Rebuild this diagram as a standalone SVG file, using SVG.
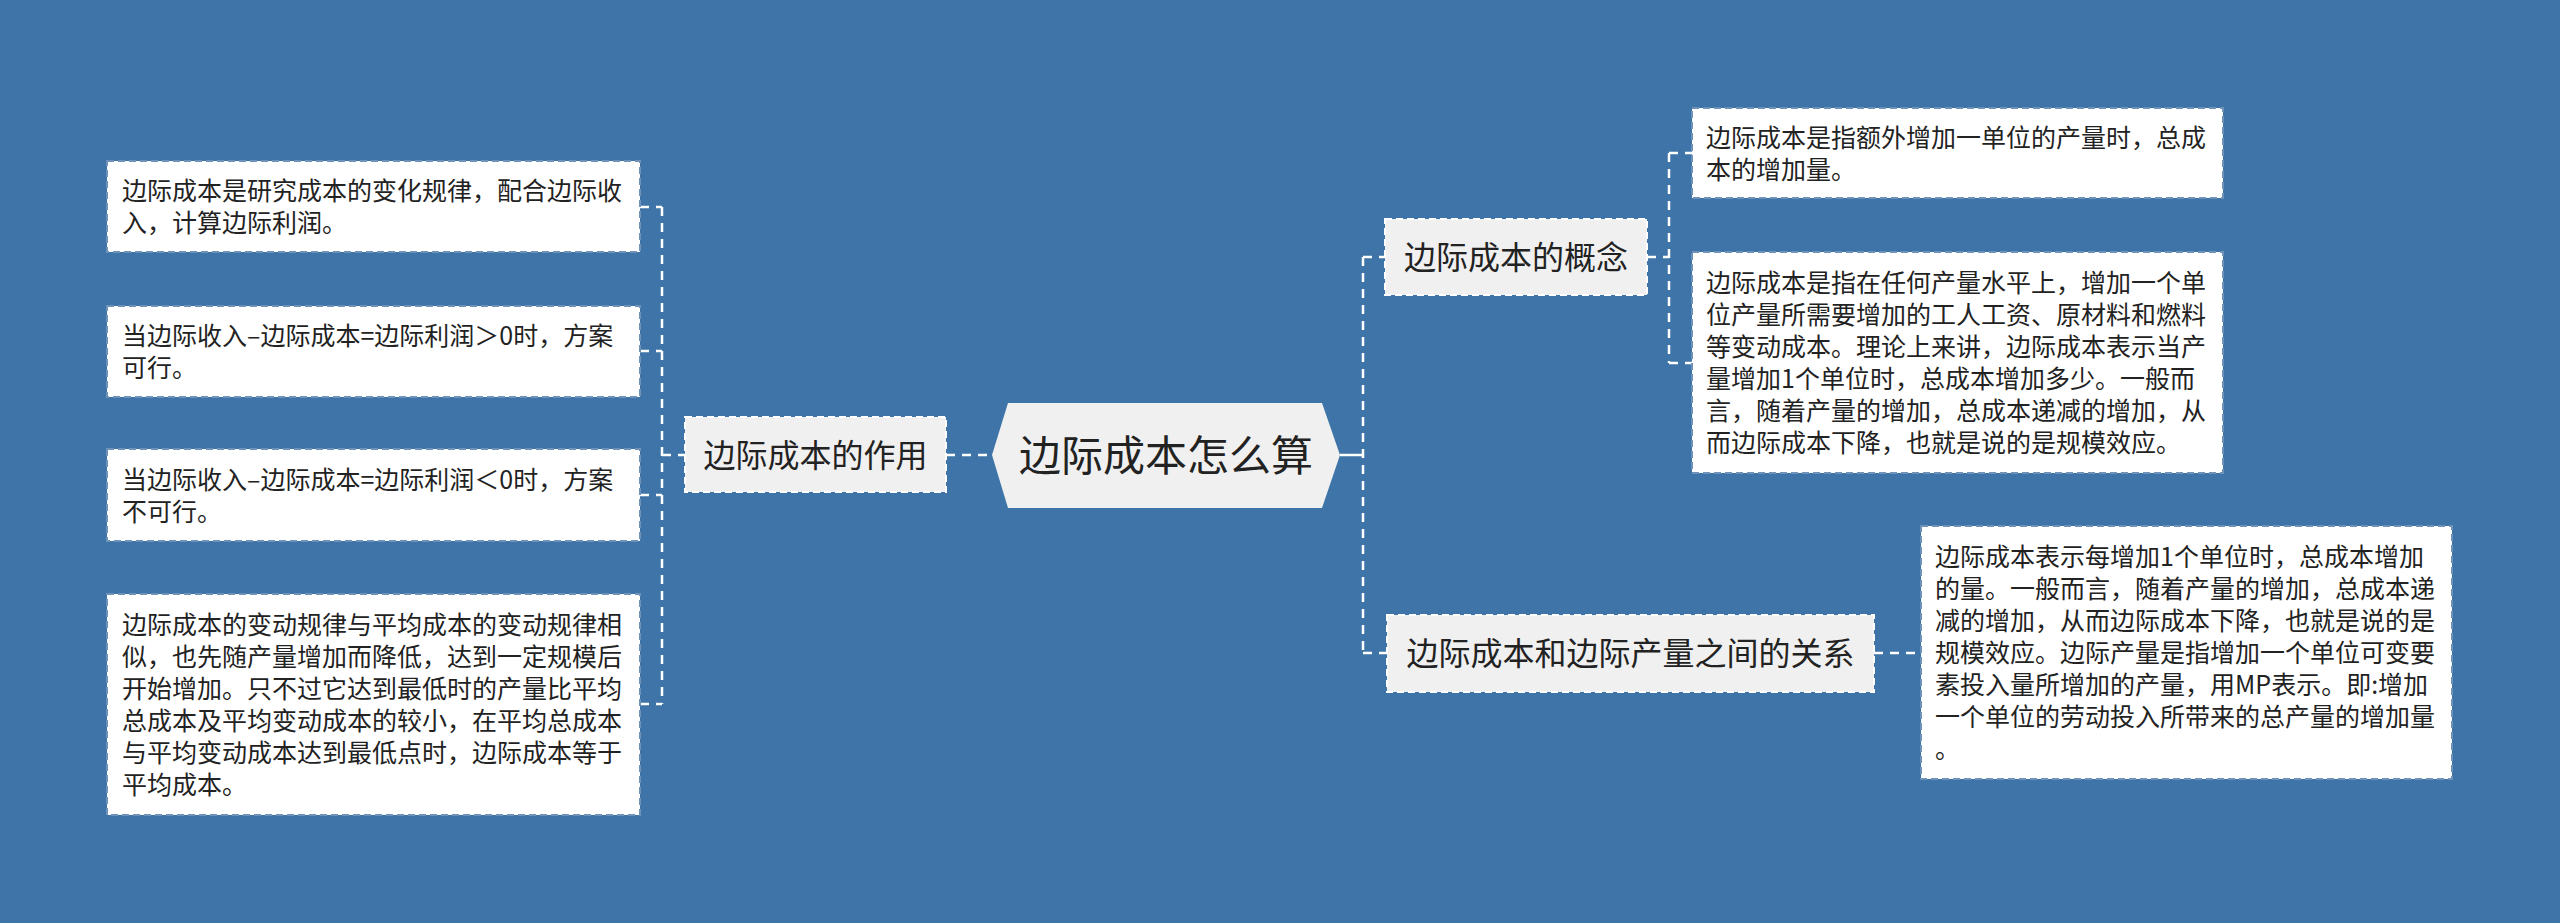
<svg xmlns="http://www.w3.org/2000/svg" width="2560" height="923" viewBox="0 0 2560 923">
<style>
.bg{fill:#3e74a7}
.conn{stroke:#ffffff;stroke-width:2.5;fill:none;stroke-dasharray:9,7}
.solid{stroke:#ffffff;stroke-width:2.5;fill:none}
.leaf{fill:#ffffff;stroke:#6f93b8;stroke-width:2;stroke-dasharray:7,4}
.branch{fill:#f0f0f0;stroke:#ffffff;stroke-width:2;stroke-dasharray:7,4}
.root{fill:#f0f0f0}
text{font-family:"Noto Sans CJK SC","Noto Sans",sans-serif;fill:#222222}
.lt{font-size:25px}
.bt{font-size:32px;text-anchor:middle}
.rt{font-size:42px;text-anchor:middle}
</style>
<rect class="bg" x="0" y="0" width="2560" height="923"/>
<g id="connectors">
<line class="conn" x1="946" y1="455" x2="992" y2="455"/>
<line class="conn" x1="662" y1="207" x2="662" y2="704"/>
<line class="conn" x1="662" y1="455" x2="685" y2="455"/>
<line class="conn" x1="640" y1="207" x2="662" y2="207"/>
<line class="conn" x1="640" y1="351" x2="662" y2="351"/>
<line class="conn" x1="640" y1="495" x2="662" y2="495"/>
<line class="conn" x1="640" y1="704" x2="662" y2="704"/>
<line class="solid" x1="1340" y1="455" x2="1363" y2="455"/>
<line class="conn" x1="1363" y1="257" x2="1363" y2="653"/>
<line class="conn" x1="1363" y1="257" x2="1385" y2="257"/>
<line class="conn" x1="1363" y1="653" x2="1387" y2="653"/>
<line class="conn" x1="1647" y1="257" x2="1669" y2="257"/>
<line class="conn" x1="1669" y1="153" x2="1669" y2="363"/>
<line class="conn" x1="1669" y1="153" x2="1692" y2="153"/>
<line class="conn" x1="1669" y1="363" x2="1692" y2="363"/>
<line class="conn" x1="1874" y1="653" x2="1921" y2="653"/>
</g>
<g id="root">
<polygon class="root" points="992,455 1008,403 1322,403 1340,455 1322,508 1008,508"/>
<text class="rt" x="1166" y="471">边际成本怎么算</text>
</g>
<g id="branch-left">
<rect class="branch" x="685" y="417" width="261" height="75"/>
<text class="bt" x="815.5" y="467">边际成本的作用</text>
</g>
<g id="leaf-l1">
<rect class="leaf" x="107" y="161" width="533" height="91"/>
<text class="lt" x="122"><tspan x="122" y="200">边际成本是研究成本的变化规律，配合边际收</tspan><tspan x="122" y="232">入，计算边际利润。</tspan></text>
</g>
<g id="leaf-l2">
<rect class="leaf" x="107" y="306" width="533" height="91"/>
<text class="lt" x="122"><tspan x="122" y="345">当边际收入–边际成本=边际利润＞0时，方案</tspan><tspan x="122" y="377">可行。</tspan></text>
</g>
<g id="leaf-l3">
<rect class="leaf" x="107" y="449" width="533" height="92"/>
<text class="lt" x="122"><tspan x="122" y="489">当边际收入–边际成本=边际利润＜0时，方案</tspan><tspan x="122" y="521">不可行。</tspan></text>
</g>
<g id="leaf-l4">
<rect class="leaf" x="107" y="594" width="533" height="221"/>
<text class="lt" x="122"><tspan x="122" y="634">边际成本的变动规律与平均成本的变动规律相</tspan><tspan x="122" y="666">似，也先随产量增加而降低，达到一定规模后</tspan><tspan x="122" y="698">开始增加。只不过它达到最低时的产量比平均</tspan><tspan x="122" y="730">总成本及平均变动成本的较小，在平均总成本</tspan><tspan x="122" y="762">与平均变动成本达到最低点时，边际成本等于</tspan><tspan x="122" y="794">平均成本。</tspan></text>
</g>
<g id="branch-concept">
<rect class="branch" x="1385" y="219" width="262" height="76"/>
<text class="bt" x="1516" y="269">边际成本的概念</text>
</g>
<g id="leaf-r1">
<rect class="leaf" x="1692" y="108" width="531" height="90"/>
<text class="lt" x="1706"><tspan x="1706" y="147">边际成本是指额外增加一单位的产量时，总成</tspan><tspan x="1706" y="179">本的增加量。</tspan></text>
</g>
<g id="leaf-r2">
<rect class="leaf" x="1692" y="252" width="531" height="221"/>
<text class="lt" x="1706"><tspan x="1706" y="292">边际成本是指在任何产量水平上，增加一个单</tspan><tspan x="1706" y="324">位产量所需要增加的工人工资、原材料和燃料</tspan><tspan x="1706" y="356">等变动成本。理论上来讲，边际成本表示当产</tspan><tspan x="1706" y="388">量增加1个单位时，总成本增加多少。一般而</tspan><tspan x="1706" y="420">言，随着产量的增加，总成本递减的增加，从</tspan><tspan x="1706" y="452">而边际成本下降，也就是说的是规模效应。</tspan></text>
</g>
<g id="branch-relation">
<rect class="branch" x="1387" y="615" width="487" height="77"/>
<text class="bt" x="1630.5" y="665">边际成本和边际产量之间的关系</text>
</g>
<g id="leaf-r3">
<rect class="leaf" x="1921" y="526" width="531" height="253"/>
<text class="lt" x="1935"><tspan x="1935" y="566">边际成本表示每增加1个单位时，总成本增加</tspan><tspan x="1935" y="598">的量。一般而言，随着产量的增加，总成本递</tspan><tspan x="1935" y="630">减的增加，从而边际成本下降，也就是说的是</tspan><tspan x="1935" y="662">规模效应。边际产量是指增加一个单位可变要</tspan><tspan x="1935" y="694">素投入量所增加的产量，用MP表示。即:增加</tspan><tspan x="1935" y="726">一个单位的劳动投入所带来的总产量的增加量</tspan><tspan x="1935" y="758">。</tspan></text>
</g>
</svg>
